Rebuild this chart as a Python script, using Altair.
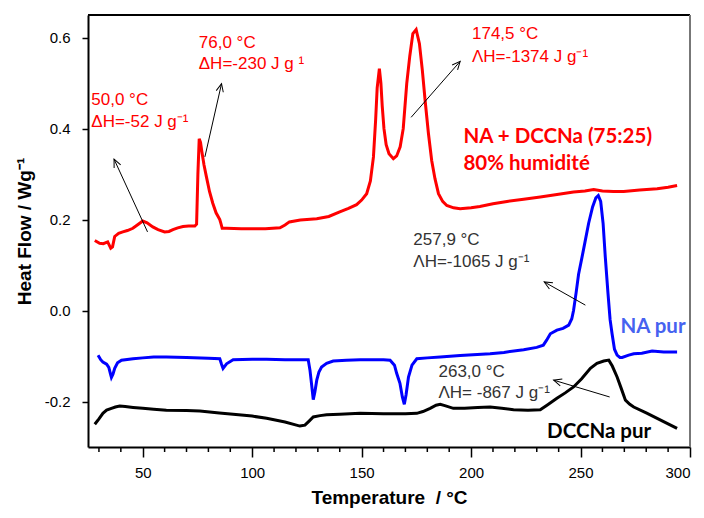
import math
import altair as alt
import pandas as pd

# ---------------- data ----------------
red_T = [28.1, 30.3, 32, 34, 35.4, 36.2, 37.2, 39, 40.9, 43, 45.5, 48, 50, 52, 54.6, 57, 60, 62, 63.8, 66,
         68.4, 71, 73.8, 74.6, 75.2, 75.8, 76.4, 77, 78, 79.1, 80.5, 82, 83.5, 85.2, 85.8, 86.3, 88.3, 95, 99,
         106, 112.7, 115, 117, 122, 129.5, 135, 140, 144, 147.7, 150, 152.3, 154, 155.4, 156.4, 157.1, 158.1,
         158.8, 159.4, 160.2, 161.2, 162.5, 164.5, 166, 167.6, 169, 170.6, 172, 173.4, 174.9, 176.4, 177.7,
         179, 180.5, 182, 183.5, 185.1, 187, 188.9, 192, 195, 200, 204, 210, 216.4, 224, 231.6, 240, 246.8,
         252, 256, 260, 265, 269.7, 277, 285, 290, 294.1]
red_HF = [0.154, 0.148, 0.147, 0.151, 0.137, 0.140, 0.163, 0.170, 0.173, 0.176, 0.181, 0.190, 0.197, 0.193,
          0.184, 0.178, 0.173, 0.174, 0.178, 0.182, 0.185, 0.186, 0.186, 0.190, 0.300, 0.378, 0.370, 0.350,
          0.320, 0.294, 0.262, 0.236, 0.215, 0.200, 0.190, 0.181, 0.181, 0.180, 0.180, 0.180, 0.182, 0.188,
          0.195, 0.199, 0.202, 0.207, 0.217, 0.225, 0.233, 0.243, 0.257, 0.285, 0.338, 0.420, 0.490, 0.532,
          0.500, 0.450, 0.400, 0.365, 0.345, 0.334, 0.340, 0.360, 0.400, 0.499, 0.560, 0.609, 0.618, 0.587,
          0.530, 0.462, 0.390, 0.330, 0.290, 0.257, 0.240, 0.231, 0.226, 0.224, 0.226, 0.229, 0.235, 0.240,
          0.245, 0.250, 0.256, 0.261, 0.263, 0.266, 0.263, 0.262, 0.262, 0.265, 0.268, 0.271, 0.275]

blue_T = [29.6, 30.8, 31.8, 33.5, 34.5, 35.2, 35.7, 36.4, 37.2, 38.5, 40.3, 45.6, 50, 55, 60.8, 70, 80, 85.2,
          86, 86.7, 87.5, 88.3, 91.3, 100, 106.6, 115, 125.6, 126.4, 127.2, 127.9, 128.6, 129.5, 130.5, 131.7,
          134, 137, 143, 149.3, 155, 160, 163, 165, 166, 167.5, 168.6, 169.5, 170.3, 171.4, 173, 175.2, 180,
          185.9, 195, 208.7, 215, 224, 230, 233, 234.5, 236.2, 239.2, 242, 244.6, 246, 246.8, 248, 249.1,
          250.7, 252, 253.7, 255.5, 257, 258.1, 259.2, 260.3, 261.3, 262.5, 263.5, 264.4, 265.5, 266.7, 268,
          269, 272, 274.3, 278, 282.7, 288, 294.1]
blue_HF = [-0.098, -0.108, -0.113, -0.118, -0.125, -0.138, -0.147, -0.140, -0.127, -0.115, -0.109, -0.106,
           -0.104, -0.102, -0.102, -0.103, -0.105, -0.106, -0.118, -0.127, -0.122, -0.117, -0.108, -0.107,
           -0.107, -0.108, -0.108, -0.131, -0.165, -0.196, -0.180, -0.153, -0.135, -0.124, -0.116, -0.111,
           -0.109, -0.108, -0.108, -0.108, -0.109, -0.120, -0.138, -0.160, -0.190, -0.206, -0.185, -0.146,
           -0.120, -0.106, -0.104, -0.102, -0.099, -0.095, -0.092, -0.086, -0.081, -0.076, -0.065, -0.051,
           -0.043, -0.039, -0.032, -0.018, 0.000, 0.040, 0.080, 0.118, 0.150, 0.192, 0.228, 0.248, 0.253,
           0.240, 0.192, 0.118, 0.040, -0.020, -0.051, -0.085, -0.098, -0.103, -0.103, -0.098, -0.095,
           -0.094, -0.089, -0.091, -0.091]

black_T = [28.1, 30, 31.8, 33.5, 35.7, 37.5, 39.5, 42, 45.6, 50, 55, 60.8, 70, 76.1, 85, 91.3, 100, 106.6, 115,
           121.8, 124.1, 126, 127.9, 131, 134, 140, 149.3, 160, 170, 175.2, 178, 181.3, 184, 185.9, 188,
           191.9, 197, 203, 208.7, 214, 219.4, 226, 231.6, 235, 239.2, 243, 246.8, 250.5, 254.5, 257.5,
           260.6, 262.9, 264.5, 266.7, 268.5, 270.5, 272.5, 274.3, 280, 285, 290, 294.1]
black_HF = [-0.250, -0.238, -0.226, -0.219, -0.215, -0.212, -0.210, -0.211, -0.213, -0.215, -0.217, -0.219,
            -0.220, -0.221, -0.225, -0.228, -0.232, -0.237, -0.245, -0.254, -0.252, -0.243, -0.234, -0.231,
            -0.229, -0.228, -0.226, -0.227, -0.227, -0.226, -0.222, -0.215, -0.208, -0.206, -0.209, -0.215,
            -0.215, -0.213, -0.212, -0.215, -0.218, -0.219, -0.218, -0.207, -0.193, -0.181, -0.168, -0.150,
            -0.127, -0.116, -0.111, -0.109, -0.122, -0.146, -0.170, -0.197, -0.206, -0.212, -0.225, -0.237,
            -0.249, -0.259]

series_names = ["NA + DCCNa (75:25)", "NA pur", "DCCNa pur"]
series_colors = ["#ff0000", "#0000ff", "#000000"]

x_major = [50, 100, 150, 200, 250, 300]
x_minor = [30, 40, 60, 70, 80, 90, 110, 120, 130, 140, 160, 170, 180, 190, 210, 220, 230, 240, 260, 270, 280, 290]
y_ticks = [-0.2, 0.0, 0.2, 0.4, 0.6]

# arrows: start (T, HF) -> end (T, HF), head at end
arrow_T1 = [52.2, 78.4, 172.6, 252.2, 263.3]
arrow_H1 = [0.173, 0.338, 0.425, 0.012, -0.190]
arrow_T2 = [36.9, 86.0, 195.0, 233.4, 237.7]
arrow_H2 = [0.333, 0.499, 0.548, 0.063, -0.153]

# annotation texts
ann_text = ["50,0 °C", "ΔH=-52 J g⁻¹", "76,0 °C", "ΔH=-230 J g ¹", "174,5 °C", "ΛH=-1374 J g⁻¹",
            "257,9 °C", "ΛH=-1065 J g⁻¹", "263,0 °C", "ΛH= -867 J g⁻¹"]
ann_T = [26.5, 26.5, 75.6, 75.6, 200.4, 200.4, 173.6, 173.6, 185.1, 185.1]
ann_H = [0.462, 0.4145, 0.588, 0.543, 0.609, 0.557, 0.1545, 0.107, -0.135, -0.182]
ann_color = ["#ff0000"] * 6 + ["#333333"] * 4

lab_text = ["NA + DCCNa (75:25)", "80% humidité", "NA pur", "DCCNa pur"]
lab_T = [196.5, 196.5, 268.2, 234.7]
lab_H = [0.3815, 0.323, -0.036, -0.267]
lab_color = ["#ff0000", "#ff0000", "#4662f0", "#000000"]

# ---------------- layout ----------------
W, H = 602, 432
XD = [25, 300]
YD = [-0.3, 0.65]

rows = []
for name, Ts, Hs in zip(series_names, [red_T, blue_T, black_T], [red_HF, blue_HF, black_HF]):
    for i, (t, h) in enumerate(zip(Ts, Hs)):
        rows.append({"series": name, "T": t, "HF": h, "i": i})
curves_df = pd.DataFrame(rows)

x_scale = alt.Scale(domain=XD, nice=False, zero=False)
y_scale = alt.Scale(domain=YD, nice=False, zero=False)

y_label_expr = "datum.value < 0 ? '-' + format(-datum.value, '.1f') : format(datum.value, '.1f')"

curves = alt.Chart(curves_df).mark_line(strokeWidth=3, clip=True).encode(
    x=alt.X("T:Q", scale=x_scale,
            axis=alt.Axis(values=x_major, tickSize=10, tickWidth=1.5, labelPadding=8,
                          title="Temperature\u00a0 / °C", titlePadding=8, format="d")),
    y=alt.Y("HF:Q", scale=y_scale,
            axis=alt.Axis(values=y_ticks, tickSize=6, tickWidth=1.5, labelPadding=12,
                          labelExpr=y_label_expr, title="Heat Flow / Wg⁻¹", titlePadding=10)),
    color=alt.Color("series:N", scale=alt.Scale(domain=series_names, range=series_colors), legend=None),
    order="i:Q",
)

minor_df = pd.DataFrame({"T": x_minor})
minor = alt.Chart(minor_df).mark_rule(color="black", strokeWidth=1.5).encode(
    x=alt.X("T:Q", scale=x_scale), y=alt.value(H), y2=alt.value(H + 5))

frame_top = alt.Chart(pd.DataFrame({"a": [0]})).mark_rule(color="black", strokeWidth=2).encode(
    x=alt.value(0), x2=alt.value(W), y=alt.value(0))
frame_right = alt.Chart(pd.DataFrame({"a": [0]})).mark_rule(color="#777777", strokeWidth=2).encode(
    x=alt.value(W), y=alt.value(0), y2=alt.value(H))

px_x = W / (XD[1] - XD[0])
px_y = H / (YD[1] - YD[0])
angles = [math.degrees(math.atan2((t2 - t1) * px_x, (h2 - h1) * px_y)) % 360
          for t1, h1, t2, h2 in zip(arrow_T1, arrow_H1, arrow_T2, arrow_H2)]
arrows_df = pd.DataFrame({"T1": arrow_T1, "H1": arrow_H1, "T2": arrow_T2, "H2": arrow_H2, "ang": angles})

shafts = alt.Chart(arrows_df).mark_rule(color="black", strokeWidth=1).encode(
    x=alt.X("T1:Q", scale=x_scale), y=alt.Y("H1:Q", scale=y_scale), x2="T2:Q", y2="H2:Q")
heads = alt.Chart(arrows_df).mark_point(
    shape="M -0.9 2 L 0 0 L 0.9 2", filled=False, size=64, color="black", strokeWidth=1, opacity=1
).encode(x=alt.X("T2:Q", scale=x_scale), y=alt.Y("H2:Q", scale=y_scale), angle=alt.Angle("ang:Q", scale=None))

ann_df = pd.DataFrame({"txt": ann_text, "T": ann_T, "HF": ann_H, "c": ann_color})
ann = alt.Chart(ann_df).mark_text(align="left", baseline="middle", font="Liberation Sans", fontSize=17).encode(
    x=alt.X("T:Q", scale=x_scale), y=alt.Y("HF:Q", scale=y_scale), text="txt:N",
    color=alt.Color("c:N", scale=None))

lab_df = pd.DataFrame({"txt": lab_text, "T": lab_T, "HF": lab_H, "c": lab_color})
labs = alt.Chart(lab_df).mark_text(align="left", baseline="middle", font="Lato", fontSize=20.5,
                                    fontWeight="bold").encode(
    x=alt.X("T:Q", scale=x_scale), y=alt.Y("HF:Q", scale=y_scale), text="txt:N",
    color=alt.Color("c:N", scale=None))

chart = alt.layer(curves, minor, frame_top, frame_right, shafts, heads, ann, labs).properties(
    width=W, height=H, autosize="none",
    padding={"left": 80, "top": 7, "right": 6, "bottom": 63},
    background="white",
).configure_view(stroke=None).configure_axis(
    grid=False, domainColor="black", domainWidth=2, tickColor="black",
    labelFont="Liberation Sans", labelFontSize=15, labelColor="black",
    titleFont="Liberation Sans", titleFontSize=19, titleFontWeight="bold", titleColor="black",
)

chart.save("out.html", embed_options={"renderer": "svg", "actions": False})
